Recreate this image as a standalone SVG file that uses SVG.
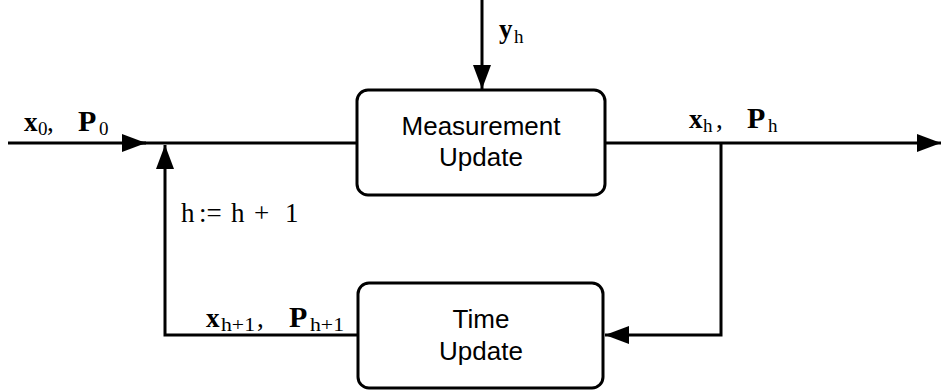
<svg xmlns="http://www.w3.org/2000/svg" width="943" height="391" viewBox="0 0 943 391">
  <style>
    .box { fill: #ffffff; stroke: #000000; stroke-width: 3; }
    .wire { fill: none; stroke: #000000; stroke-width: 3; }
    .lbl { font-family: "Liberation Sans", Arial, sans-serif; font-size: 26px; fill: #000000; text-anchor: middle; }
    .m { font-family: "Liberation Serif", "Times New Roman", serif; font-size: 27px; fill: #000000; }
    .b { font-weight: bold; }
    .p { font-size: 30px; }
    .s { font-size: 19px; }
  </style>
  <defs>
    <marker id="arrow" viewBox="0 0 24 18" refX="24" refY="9" markerWidth="24" markerHeight="18" markerUnits="userSpaceOnUse" orient="auto">
      <path d="M0,0 L24,9 L0,18 z" fill="#000000"/>
    </marker>
  </defs>

  <g id="connectors">
    <!-- input line into the summing point -->
    <path class="wire" d="M8,143 L146,143" marker-end="url(#arrow)"/>
    <path class="wire" d="M140,143 L357,143"/>
    <!-- measurement y_h -->
    <path class="wire" d="M482,0 L482,89" marker-end="url(#arrow)"/>
    <!-- output -->
    <path class="wire" d="M605,143 L941,143" marker-end="url(#arrow)"/>
    <!-- branch down to the time update -->
    <path class="wire" d="M721,143 L721,335 L605,335" marker-end="url(#arrow)"/>
    <!-- feedback up to the input -->
    <path class="wire" d="M358,335 L165,335 L165,145" marker-end="url(#arrow)"/>
  </g>

  <g id="measurement-update">
    <rect class="box" x="357" y="90" width="248" height="105" rx="11"/>
    <text class="lbl" x="481" y="135">Measurement</text>
    <text class="lbl" x="481" y="166">Update</text>
  </g>

  <g id="time-update">
    <rect class="box" x="358" y="283" width="245" height="105" rx="11"/>
    <text class="lbl" x="481" y="328">Time</text>
    <text class="lbl" x="481" y="360">Update</text>
  </g>

  <g id="labels">
    <text class="m" y="131"><tspan class="b" x="24">x</tspan><tspan class="s" x="38" dy="4">0</tspan><tspan x="47" dy="-4">,</tspan><tspan class="b p" x="78">P</tspan><tspan class="s" x="99" dy="4">0</tspan></text>
    <text class="m" y="38"><tspan class="b" x="499">y</tspan><tspan class="s" x="514" dy="5">h</tspan></text>
    <text class="m" y="128"><tspan class="b" x="689">x</tspan><tspan class="s" x="703" dy="4">h</tspan><tspan x="716" dy="-4">,</tspan><tspan class="b p" x="747">P</tspan><tspan class="s" x="768" dy="4">h</tspan></text>
    <text class="m" y="222"><tspan x="181">h</tspan><tspan x="199">:=</tspan><tspan x="231">h</tspan><tspan x="254">+</tspan><tspan x="285">1</tspan></text>
    <text class="m" y="327"><tspan class="b" x="206">x</tspan><tspan class="s" x="221" dy="4" textLength="34" lengthAdjust="spacingAndGlyphs">h+1</tspan><tspan x="257" dy="-4">,</tspan><tspan class="b p" x="289">P</tspan><tspan class="s" x="310" dy="4" textLength="34" lengthAdjust="spacingAndGlyphs">h+1</tspan></text>
  </g>
</svg>
